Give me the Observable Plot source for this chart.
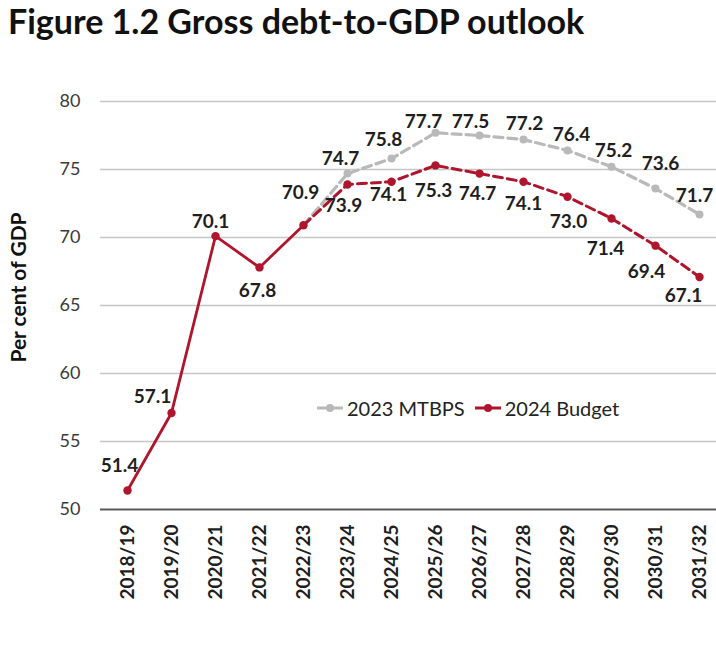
<!DOCTYPE html>
<html>
<head>
<meta charset="utf-8">
<script src="https://cdn.jsdelivr.net/npm/d3@7"></script>
<script src="https://cdn.jsdelivr.net/npm/@observablehq/plot@0.6"></script>
<style>
  html, body { margin: 0; padding: 0; background: #fff; }
  #wrap { position: relative; width: 716px; height: 657px; overflow: hidden; font-family: Lato, "Open Sans", sans-serif; }
  #title { height: 40px; padding-left: 8px; font-size: 34px; line-height: normal; font-weight: 700; color: #111; white-space: nowrap; overflow: visible; }
  #legend { position: absolute; top: 396px; left: 315px; display: flex; align-items: center; font-size: 20px; color: #222; }
  #legend .item { display: flex; align-items: center; margin-right: 8px; }
  #legend svg { margin-right: 2px; }
</style>
</head>
<body>
<div id="wrap">
  <div id="title">Figure 1.2 Gross debt-to-GDP outlook</div>
  <div id="chart"></div>
  <div id="legend"></div>
</div>
<script>
// ---- data ----
const years = ["2018/19","2019/20","2020/21","2021/22","2022/23","2023/24","2024/25","2025/26","2026/27","2027/28","2028/29","2029/30","2030/31","2031/32"];
const budget2024 = [51.4, 57.1, 70.1, 67.8, 70.9, 73.9, 74.1, 75.3, 74.7, 74.1, 73.0, 71.4, 69.4, 67.1];
const mtbpsYears = ["2022/23","2023/24","2024/25","2025/26","2026/27","2027/28","2028/29","2029/30","2030/31","2031/32"];
const mtbps2023 = [70.9, 74.7, 75.8, 77.7, 77.5, 77.2, 76.4, 75.2, 73.6, 71.7];
const yTicks = [50, 55, 60, 65, 70, 75, 80];
const seriesNames = ["2023 MTBPS", "2024 Budget"];

// ---- layout (label nudges in px, not data) ----
const budgetNudge = [[-8,-25],[-19,-16],[-5,-14],[-2,23],[-3,-32],[-4,21],[-3,13],[-2,25],[-2,20],[0,22],[1,25],[-6,30],[-9,26],[-16,19]];
const mtbpsNudge = [null,[-7,-15],[-8,-19],[-12,-11],[-9,-14],[1,-16],[4,-16],[2,-16],[5,-25],[-5,-18]];

const RED = "#af152c";
const GRAY = "#b9b9b9";

const budgetRows = years.map((y, i) => ({year: y, value: budget2024[i], i}));
const mtbpsRows = mtbpsYears.map((y, i) => ({year: y, value: mtbps2023[i], i}));

const labelStyle = {fontSize: 19, fontWeight: "bold", fill: "#1e1e1e", fontFamily: "Lato"};
const fmt = v => v.toFixed(1);

const labelMarks = [];
budgetRows.forEach((r, i) => {
  const [dx, dy] = budgetNudge[i];
  labelMarks.push(Plot.text([r], {x: "year", y: "value", text: d => fmt(d.value), dx, dy, ...labelStyle}));
});
mtbpsRows.forEach((r, i) => {
  if (!mtbpsNudge[i]) return;
  const [dx, dy] = mtbpsNudge[i];
  labelMarks.push(Plot.text([r], {x: "year", y: "value", text: d => fmt(d.value), dx, dy, ...labelStyle}));
});

const chart = Plot.plot({
  width: 716,
  height: 617,
  marginTop: 61,
  marginBottom: 148,
  marginLeft: 100,
  marginRight: 0,
  style: {fontFamily: "Lato", fontSize: "18px", color: "#3a3a3a", background: "white", overflow: "visible"},
  x: {type: "point", domain: years, range: [123, 702], padding: 0},
  y: {domain: [50, 80]},
  marks: [
    Plot.ruleY(yTicks.filter(t => t > 50), {stroke: "#c6c6c6", strokeWidth: 1.3}),
    Plot.ruleY([50], {stroke: "#5a5a5a", strokeWidth: 2}),
    Plot.axisY({ticks: yTicks, tickSize: 0, tickPadding: 20, label: null, fontSize: 18}),
    Plot.axisX({tickRotate: -90, tickSize: 0, tickPadding: 15, label: null, fontSize: 19, fontWeight: "bold", fill: "#1e1e1e"}),
    Plot.text(["Per cent of GDP"], {frameAnchor: "left", textAnchor: "middle", rotate: -90, dx: -81, dy: -18, fontSize: 21, fontWeight: "bold", fill: "#111"}),
    // 2023 MTBPS
    Plot.line(mtbpsRows, {x: "year", y: "value", stroke: GRAY, strokeWidth: 3.2, strokeDasharray: "9,5"}),
    Plot.dot(mtbpsRows.slice(1), {x: "year", y: "value", fill: GRAY, r: 4, symbol: "circle"}),
    // 2024 Budget
    Plot.line(budgetRows.slice(0, 5), {x: "year", y: "value", stroke: RED, strokeWidth: 2.8}),
    Plot.line(budgetRows.slice(4), {x: "year", y: "value", stroke: RED, strokeWidth: 3, strokeDasharray: "9,5"}),
    Plot.dot(budgetRows, {x: "year", y: "value", fill: RED, r: 4.2}),
    ...labelMarks
  ]
});
document.getElementById("chart").appendChild(chart);

// legend
const legend = document.getElementById("legend");
const colors = [GRAY, RED];
seriesNames.forEach((name, i) => {
  const item = document.createElement("div");
  item.className = "item";
  item.innerHTML = `<svg width="30" height="12"><line x1="2" y1="6" x2="28" y2="6" stroke="${colors[i]}" stroke-width="3"/><circle cx="15" cy="6" r="4" fill="${colors[i]}"/></svg><span>${name}</span>`;
  legend.appendChild(item);
});
</script>
</body>
</html>
